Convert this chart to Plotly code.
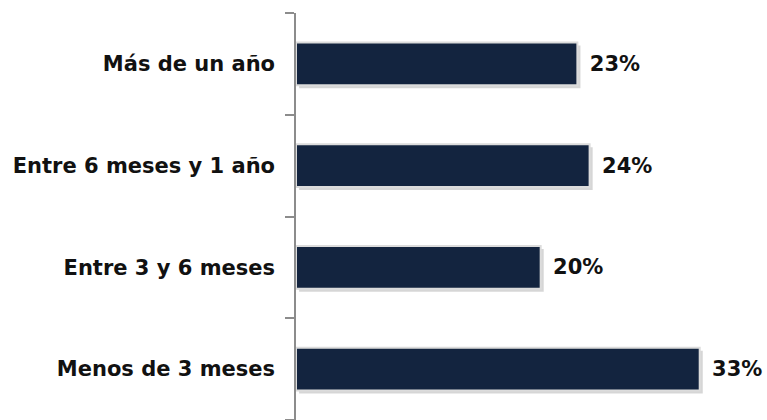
import plotly.graph_objects as go

categories = ["Menos de 3 meses", "Entre 3 y 6 meses", "Entre 6 meses y 1 año", "Más de un año"]
values = [33, 20, 24, 23]
labels = ["33%", "20%", "24%", "23%"]

fig = go.Figure()
# soft shadow
fig.add_trace(go.Bar(
    y=categories, x=values, orientation="h",
    marker=dict(color="rgba(0,0,0,0.16)", line=dict(width=0)),
    offset=-0.24, width=0.42, base=0.25, hoverinfo="skip", showlegend=False,
))
fig.add_trace(go.Bar(
    y=categories, x=values, orientation="h",
    marker=dict(color="#13243f", line=dict(color="#dcdcdc", width=2)),
    offset=-0.21, width=0.42,
    text=labels, texttemplate=" \u200a%{text}", textposition="outside", cliponaxis=False,
    textfont=dict(family="DejaVu Sans", size=21, color="#111111", weight="bold"),
    showlegend=False,
))
fig.update_layout(
    width=767, height=420,
    margin=dict(l=296, r=0, t=13, b=0, autoexpand=False),
    paper_bgcolor="white", plot_bgcolor="white",
    barmode="overlay",
)
fig.update_xaxes(range=[0, 38.5], visible=False, automargin=False)
fig.update_yaxes(
    type="category", categoryorder="array", categoryarray=categories,
    showline=True, linecolor="#8c8c8c", linewidth=1.5,
    ticks="outside", ticklen=9, tickcolor="#8c8c8c", tickwidth=1.5,
    tickson="boundaries", ticklabelstandoff=15, automargin=False,
    tickfont=dict(family="DejaVu Sans", size=21, color="#111111", weight="bold"),
    showgrid=False, zeroline=False,
)
fig.write_html(
    "out.html",
    config={"displayModeBar": False},
    post_script="document.body.style.margin='0px';document.body.style.overflow='hidden';",
)
